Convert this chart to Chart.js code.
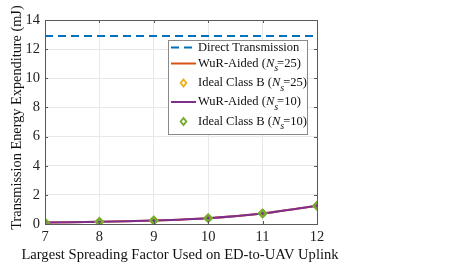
<!DOCTYPE html>
<html>
<head>
<meta charset="utf-8">
<script src="https://cdn.jsdelivr.net/npm/chart.js@4"></script>
<style>
  html, body { margin:0; padding:0; background:#fff; }
  #wrap { width:467px; height:263px; }
</style>
</head>
<body>
<div id="wrap"><canvas id="c" width="467" height="263"></canvas></div>
<script>
// datos
const spreadingFactors = [7, 8, 9, 10, 11, 12];
const directTx = [12.9, 12.9, 12.9, 12.9, 12.9, 12.9];
const wurNs25 = [0.1, 0.15, 0.24, 0.4, 0.72, 1.25];
const idealNs25 = [0.1, 0.15, 0.24, 0.4, 0.72, 1.25];
const wurNs10 = [0.1, 0.15, 0.24, 0.4, 0.72, 1.25];
const idealNs10 = [0.1, 0.15, 0.24, 0.4, 0.72, 1.25];
const yTicks = [0, 2, 4, 6, 8, 10, 12, 14];
const xTitle = "Largest Spreading Factor Used on ED-to-UAV Uplink";
const yTitle = "Transmission Energy Expenditure (mJ)";

const BLUE = "#0072BD";
const ORANGE = "#D95319";
const YELLOW = "#EDB120";
const PURPLE = "#7E2F8E";
const GREEN = "#77AC30";
const FONT = "'Liberation Serif', 'DejaVu Serif', serif";

const pts = (arr) => spreadingFactors.map((x, i) => ({ x, y: arr[i] }));

// leyenda estilo MATLAB, dentro del area
const legendRows = [
  { kind: "dash", color: BLUE, parts: [["Direct Transmission", ""]] },
  { kind: "line", color: ORANGE, parts: [["WuR-Aided (", ""], ["N", "i"], ["s", "sub"], ["=25)", ""]] },
  { kind: "mark", color: YELLOW, parts: [["Ideal Class B (", ""], ["N", "i"], ["s", "sub"], ["=25)", ""]] },
  { kind: "line", color: PURPLE, parts: [["WuR-Aided (", ""], ["N", "i"], ["s", "sub"], ["=10)", ""]] },
  { kind: "mark", color: GREEN, parts: [["Ideal Class B (", ""], ["N", "i"], ["s", "sub"], ["=10)", ""]] },
];

function diamond(ctx, x, y, r, color){
  ctx.save();
  ctx.beginPath();
  ctx.moveTo(x, y - r);
  ctx.lineTo(x + r*0.8, y);
  ctx.lineTo(x, y + r);
  ctx.lineTo(x - r*0.8, y);
  ctx.closePath();
  ctx.fillStyle = "#fff";
  ctx.fill();
  ctx.lineWidth = 2;
  ctx.strokeStyle = color;
  ctx.stroke();
  ctx.restore();
}

const legendBox = {
  id: "legendBox",
  afterDraw(chart){
    const ctx = chart.ctx;
    const bx = 168, by = 40, bw = 139, bh = 94;
    ctx.save();
    ctx.fillStyle = "#fff";
    ctx.fillRect(bx, by, bw, bh);
    ctx.strokeStyle = "#8a8a8a";
    ctx.lineWidth = 1;
    ctx.strokeRect(bx + 0.5, by + 0.5, bw, bh);
    const rowsY = [47.5, 63.5, 83, 102, 121.5];
    legendRows.forEach((row, i) => {
      const y = rowsY[i];
      if (row.kind === "dash"){
        ctx.strokeStyle = row.color; ctx.lineWidth = 2;
        ctx.setLineDash([8, 5]);
        ctx.beginPath(); ctx.moveTo(171, y); ctx.lineTo(196, y); ctx.stroke();
        ctx.setLineDash([]);
      } else if (row.kind === "line"){
        ctx.strokeStyle = row.color; ctx.lineWidth = 2;
        ctx.beginPath(); ctx.moveTo(171, y); ctx.lineTo(196, y); ctx.stroke();
      } else {
        diamond(ctx, 183.5, y, 3.5, row.color);
      }
      let x = 198;
      ctx.fillStyle = "#111";
      ctx.textBaseline = "middle";
      row.parts.forEach(([txt, st]) => {
        let dy = 0;
        if (st === "i") ctx.font = "italic 12.5px " + FONT;
        else if (st === "sub"){ ctx.font = "italic 10px " + FONT; dy = 5; }
        else ctx.font = "12.5px " + FONT;
        ctx.fillText(txt, x, y + dy);
        x += ctx.measureText(txt).width - (st === "sub" ? 1 : 0);
      });
    });
    ctx.restore();
  }
};

// titulos de ejes sin compresion (Chart.js limita el ancho al area)
const axisTitles = {
  id: "axisTitles",
  afterDraw(chart){
    const { ctx, chartArea: a } = chart;
    ctx.save();
    ctx.fillStyle = "#111";
    ctx.textAlign = "center";
    ctx.textBaseline = "middle";
    ctx.font = "14.6px " + FONT;
    ctx.fillText(xTitle, 180, 255);
    ctx.translate(17, 117.5);
    ctx.rotate(-Math.PI / 2);
    ctx.font = "14.3px " + FONT;
    ctx.fillText(yTitle, 0, 0);
    ctx.restore();
  }
};

// marco con ticks hacia adentro
const frame = {
  id: "frame",
  afterDatasetsDraw(chart){
    const { ctx, chartArea: a, scales } = chart;
    ctx.save();
    ctx.strokeStyle = "#5a5a5a";
    ctx.lineWidth = 1;
    ctx.strokeRect(Math.round(a.left) + 0.5, Math.round(a.top) + 0.5, Math.round(a.right - a.left), Math.round(a.bottom - a.top));
    ctx.beginPath();
    yTicks.forEach(v => {
      const y = Math.round(scales.y.getPixelForValue(v)) + 0.5;
      ctx.moveTo(a.left, y); ctx.lineTo(a.left + 3, y);
      ctx.moveTo(a.right, y); ctx.lineTo(a.right - 3, y);
    });
    spreadingFactors.forEach(v => {
      const x = Math.round(scales.x.getPixelForValue(v)) + 0.5;
      ctx.moveTo(x, a.bottom); ctx.lineTo(x, a.bottom - 3);
      ctx.moveTo(x, a.top); ctx.lineTo(x, a.top + 3);
    });
    ctx.stroke();
    ctx.restore();
  }
};

new Chart(document.getElementById("c"), {
  type: "line",
  data: {
    datasets: [
      { label: "Direct Transmission", data: pts(directTx), borderColor: BLUE, borderWidth: 2, borderDash: [8, 5], pointRadius: 0, order: 5 },
      { label: "WuR-Aided (Ns=25)", data: pts(wurNs25), borderColor: ORANGE, borderWidth: 2, pointRadius: 0, tension: 0.3, order: 4 },
      { label: "Ideal Class B (Ns=25)", data: pts(idealNs25), showLine: false, pointStyle: "rectRot", pointRadius: 3.5, pointBorderWidth: 2, pointBorderColor: YELLOW, pointBackgroundColor: "#fff", order: 3 },
      { label: "WuR-Aided (Ns=10)", data: pts(wurNs10), borderColor: PURPLE, borderWidth: 2, pointRadius: 0, tension: 0.3, order: 2 },
      { label: "Ideal Class B (Ns=10)", data: pts(idealNs10), showLine: false, pointStyle: "rectRot", pointRadius: 3.5, pointBorderWidth: 2.5, pointBorderColor: GREEN, pointBackgroundColor: PURPLE, order: 1 },
    ]
  },
  options: {
    responsive: false,
    animation: false,
    layout: { padding: { top: 20, right: 150, left: 0, bottom: 0 } },
    plugins: { legend: { display: false }, tooltip: { enabled: false } },
    scales: {
      x: {
        type: "linear", min: 7, max: 12,
        afterFit: (s) => { s.height = 39; },
        afterBuildTicks: (s) => { s.ticks = spreadingFactors.map(v => ({ value: v })); },
        grid: { color: "#e8e8e8", drawTicks: false },
        border: { display: false },
        ticks: { color: "#222", font: { family: FONT, size: 14.5 }, padding: 4 },
        title: { display: false }
      },
      y: {
        min: 0, max: 14,
        afterFit: (s) => { s.width = 45; },
        afterBuildTicks: (s) => { s.ticks = yTicks.map(v => ({ value: v })); },
        grid: { color: "#e8e8e8", drawTicks: false },
        border: { display: false },
        ticks: { color: "#222", font: { family: FONT, size: 14.5 }, padding: 5 },
        title: { display: false }
      }
    }
  },
  plugins: [frame, legendBox, axisTitles]
});
</script>
</body>
</html>
